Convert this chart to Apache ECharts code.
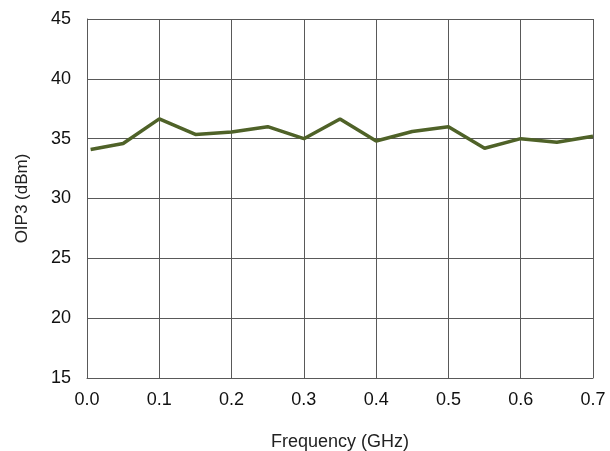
<!DOCTYPE html>
<html>
<head>
<meta charset="utf-8">
<script src="https://cdn.jsdelivr.net/npm/echarts@6/dist/echarts.min.js"></script>
<style>
  html, body { margin: 0; padding: 0; background: #fff; }
  #chart { width: 610px; height: 451px; }
</style>
</head>
<body>
<div id="chart"></div>
<script>
const freqGHz = [0.005, 0.05, 0.1, 0.15, 0.2, 0.25, 0.3, 0.35, 0.4, 0.45, 0.5, 0.55, 0.6, 0.65, 0.7]
const oip3 = [34.1, 34.6, 36.65, 35.35, 35.55, 36.0, 35.0, 36.65, 34.8, 35.6, 36.0, 34.2, 35.0, 34.7, 35.2]

const chart = echarts.init(document.getElementById('chart'))
const font = 'Liberation Sans, Arial, sans-serif'
const gridLine = { show: true, lineStyle: { color: '#595959', width: 1 } }

chart.setOption({
  animation: false,
  grid: { left: 87, right: 17, top: 19, bottom: 73, outerBoundsMode: 'none' },
  xAxis: {
    type: 'value',
    min: 0, max: 0.7, interval: 0.1,
    name: 'Frequency (GHz)',
    nameLocation: 'middle',
    nameGap: 55,
    nameTextStyle: { fontFamily: font, fontSize: 18, color: '#222' },
    axisLine: { show: true, lineStyle: { color: '#595959' } },
    axisTick: { show: false },
    splitLine: gridLine,
    axisLabel: { fontFamily: font, fontSize: 18, color: '#111', margin: 13, formatter: v => v.toFixed(1) }
  },
  yAxis: {
    type: 'value',
    min: 15, max: 45, interval: 5,
    name: 'OIP3 (dBm)',
    nameLocation: 'middle',
    nameGap: 56,
    nameTextStyle: { fontFamily: font, fontSize: 17, color: '#222' },
    axisLine: { show: true, lineStyle: { color: '#595959' } },
    axisTick: { show: false },
    splitLine: gridLine,
    axisLabel: { fontFamily: font, fontSize: 18, color: '#111', margin: 16 }
  },
  series: [{
    type: 'line',
    data: freqGHz.map((f, i) => [f, oip3[i]]),
    symbol: 'none',
    lineStyle: { color: '#4F6228', width: 3.5 }
  }]
})
</script>
</body>
</html>
